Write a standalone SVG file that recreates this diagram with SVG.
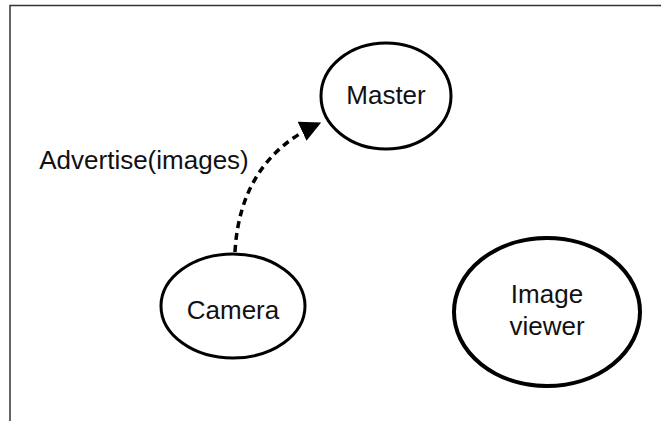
<svg xmlns="http://www.w3.org/2000/svg" width="661" height="421" viewBox="0 0 661 421">
  <style>
    .node { fill: #ffffff; stroke: #000000; stroke-width: 3; }
    .label { font-family: "Liberation Sans", Arial, sans-serif; font-size: 26px; fill: #111111; text-anchor: middle; }
    .frame { fill: none; stroke: #333333; stroke-width: 1.5; }
    .edge { fill: none; stroke: #000000; stroke-width: 3.5; stroke-dasharray: 7 5; }
  </style>
  <defs>
    <marker id="arrow" markerWidth="6" markerHeight="6" refX="5" refY="3" orient="auto" markerUnits="strokeWidth">
      <path d="M0,0 L6,3 L0,6 Z" fill="#000000"/>
    </marker>
  </defs>
  <rect width="661" height="421" fill="#ffffff"/>
  <path class="frame" d="M10,421 L10,5.5 L661,5.5"/>
  <g id="connectors">
    <path class="edge" d="M235,252 Q240,160 318,124" marker-end="url(#arrow)"/>
    <text class="label" x="144" y="169">Advertise(images)</text>
  </g>
  <g id="master">
    <ellipse class="node" cx="386" cy="96" rx="65" ry="53"/>
    <text class="label" x="386" y="104">Master</text>
  </g>
  <g id="camera">
    <ellipse class="node" cx="233" cy="306" rx="72" ry="52"/>
    <text class="label" x="233" y="319">Camera</text>
  </g>
  <g id="image-viewer">
    <ellipse class="node" cx="547" cy="312" rx="93" ry="74" style="stroke-width:4"/>
    <text class="label" x="547" y="303">Image</text>
    <text class="label" x="547" y="335">viewer</text>
  </g>
</svg>
